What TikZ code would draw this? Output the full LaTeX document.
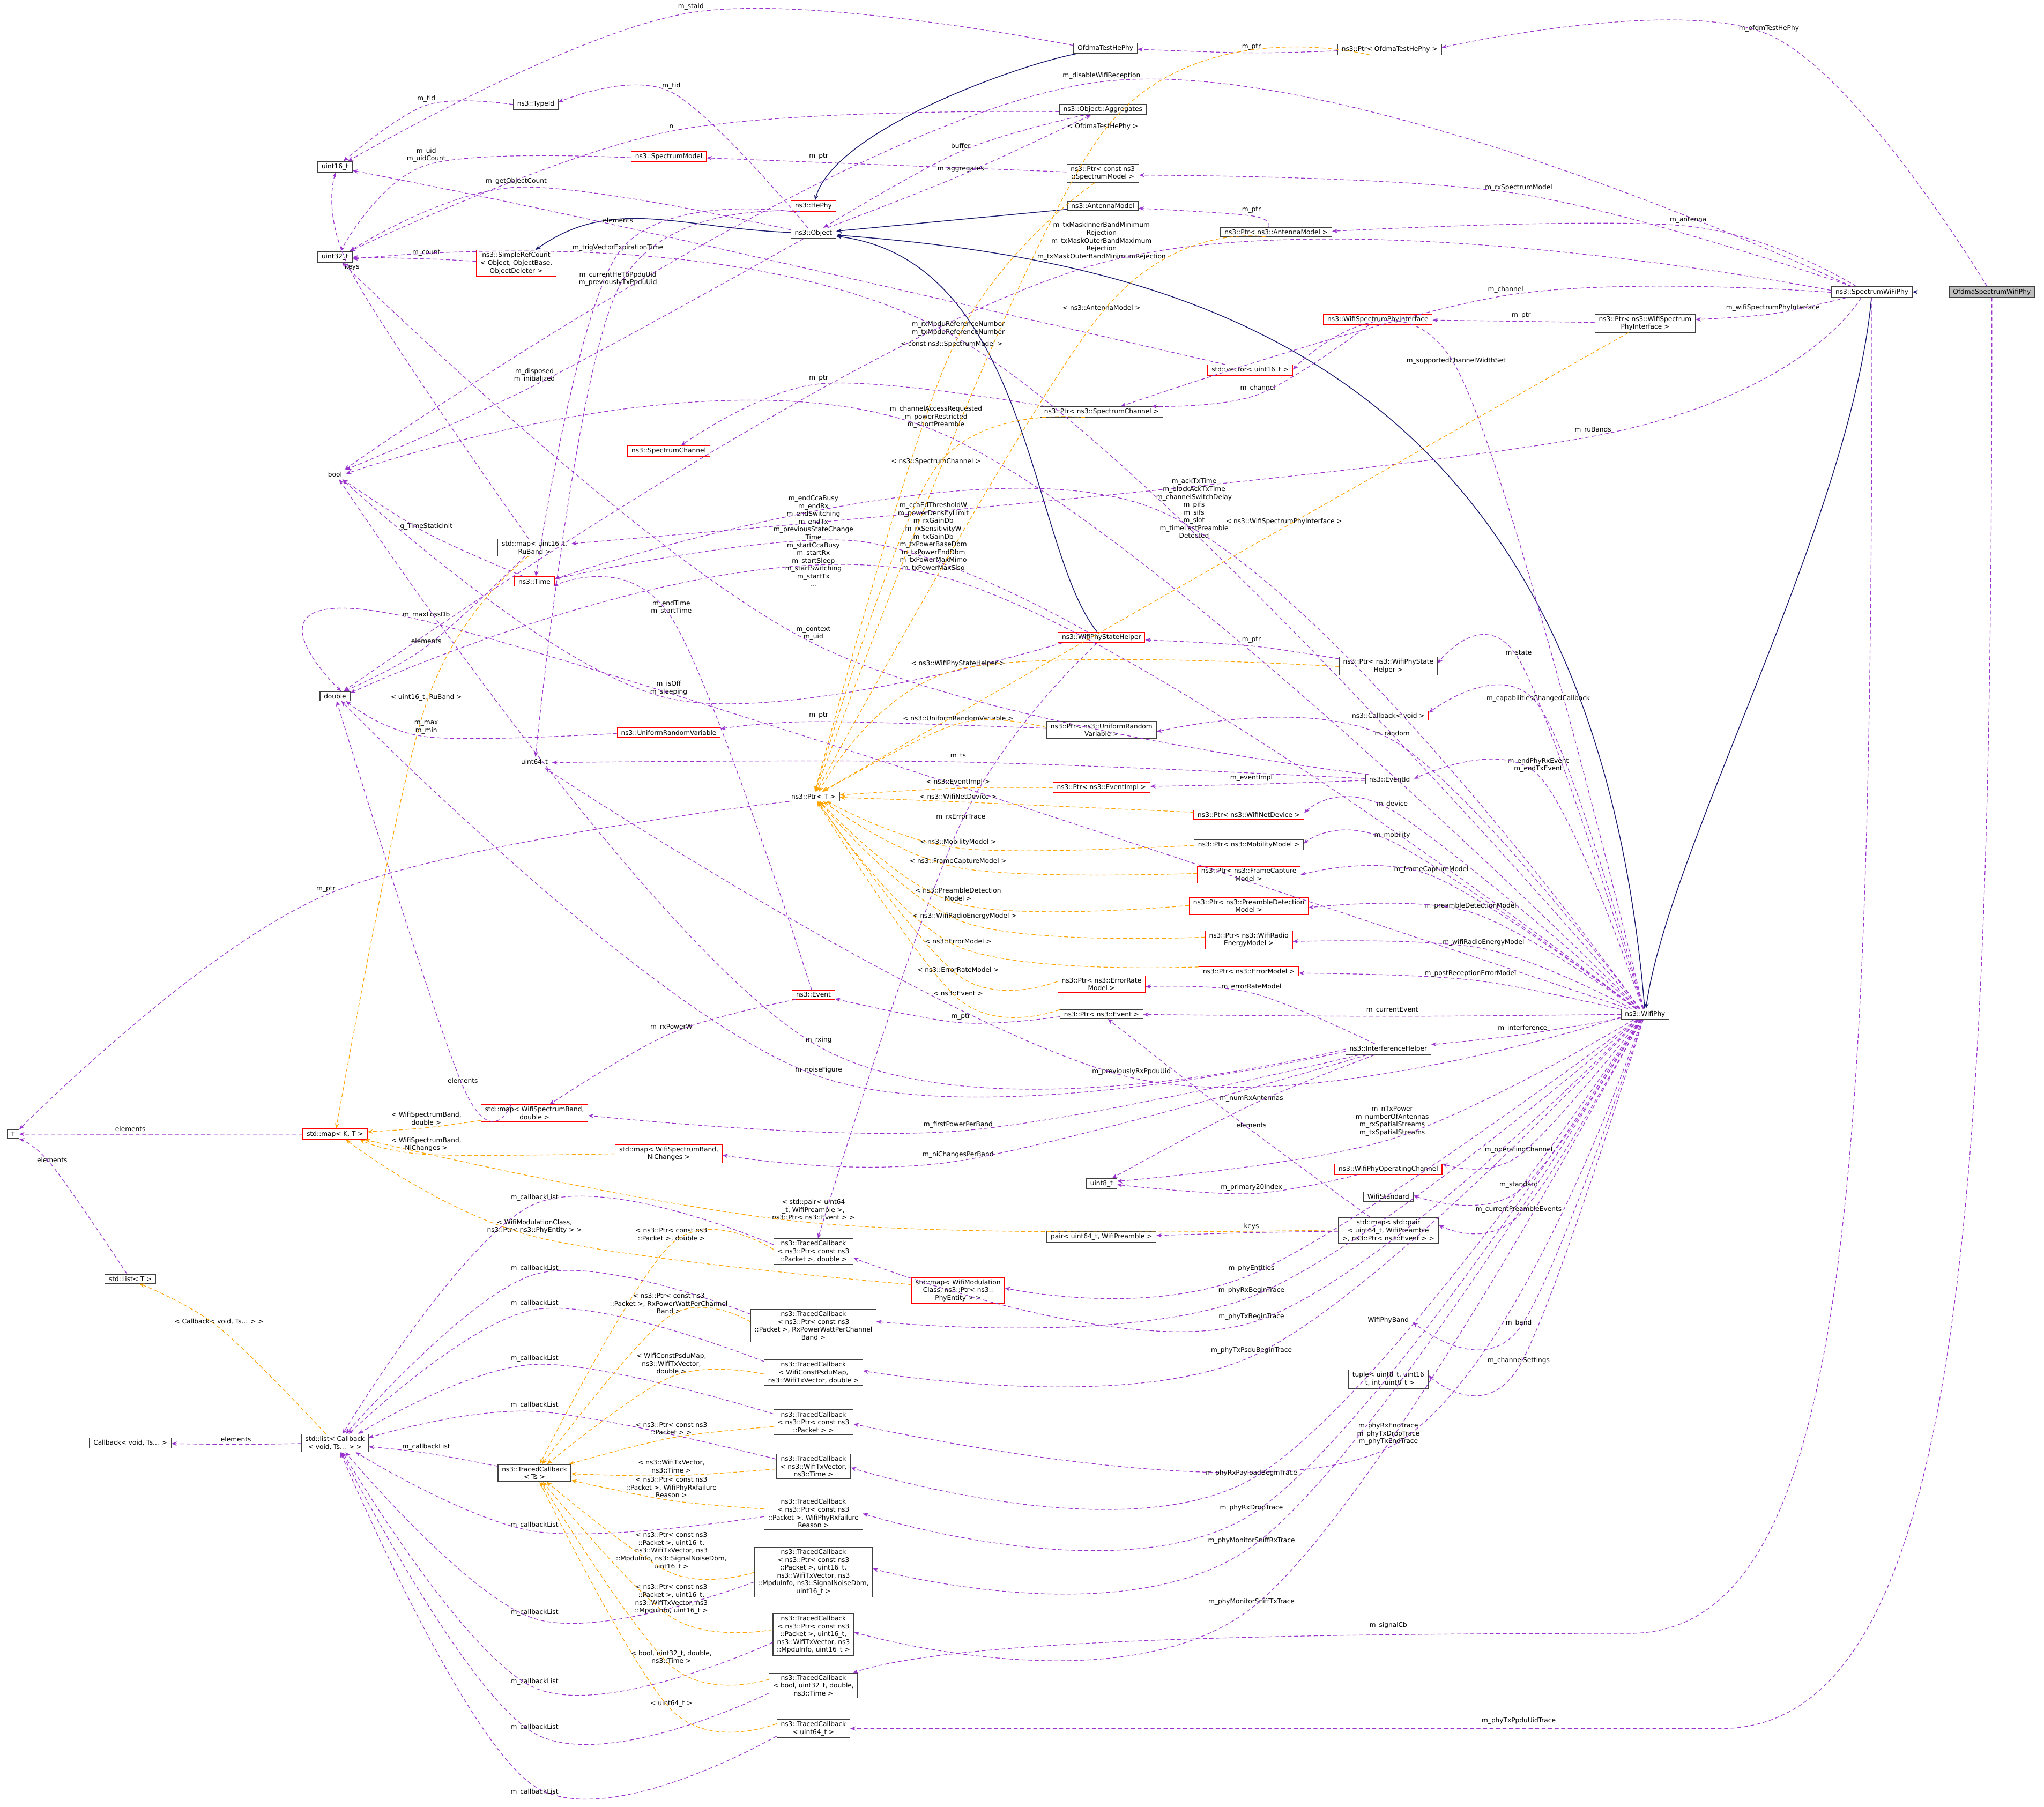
\documentclass[tikz,border=0pt]{standalone}
\usepackage{fontspec}
\setmainfont{DejaVu Sans}
\usetikzlibrary{arrows.meta,calc}
\definecolor{memc}{HTML}{9A32CD}
\definecolor{tplc}{HTML}{FFA500}
\definecolor{inhc}{HTML}{191970}
\tikzset{
 box/.style={draw=black!75,fill=white,line width=0.5pt,font=\fontsize{5}{6}\selectfont,inner xsep=3pt,inner ysep=1.6pt,align=center},
 rbox/.style={box,draw=red},
 gbox/.style={box,fill=black!25},
 lbl/.style={font=\fontsize{5}{6}\selectfont,align=center,inner sep=0pt},
 memb/.style={draw=memc,dashed,dash pattern=on 3pt off 2pt,line width=0.5pt,-{Stealth[length=4pt,width=3.2pt]}},
 tmpl/.style={draw=tplc,dashed,dash pattern=on 3pt off 2pt,line width=0.5pt,-{Stealth[length=4pt,width=3.2pt]}},
 inh/.style={draw=inhc,line width=0.6pt,-{Stealth[length=4pt,width=3.2pt]}}
}
\newcommand\edgecurve[6]{\node[lbl] (L) at (#6) {#5};
 \coordinate (P) at ($(L.#2)!-2pt!(L.center)$);
 \path (P) -- (#3) coordinate[pos=1] (Ae);
 \path (P) -- (#4) coordinate[pos=1] (Be);
 \draw[#1] plot[smooth,tension=0.6] coordinates {(Ae) (P) (Be)};}
\newcommand\mem[5][south]{\edgecurve{memb}{#1}{#2}{#3}{#4}{#5}}
\newcommand\tpl[5][south]{\edgecurve{tmpl}{#1}{#2}{#3}{#4}{#5}}
\newcommand\inhe[2]{\draw[inh] (#1) -- (#2);}
\catcode`\_=12
\begin{document}
\begin{tikzpicture}[x=1pt,y=-1pt]
\useasboundingbox (0,0) rectangle (1568,1386);
\fill[white] (0,0) rectangle (1568,1386);
% nodes
\node[gbox] (osp) at (1528,224) {OfdmaSpectrumWifiPhy};
\node[box] (swp) at (1436,224) {ns3::SpectrumWiFiPhy};
\node[box] (oth) at (848,37) {OfdmaTestHePhy};
\node[box] (potp) at (1066,38) {ns3::Ptr< OfdmaTestHePhy >};
\node[box] (tid) at (411,80) {ns3::TypeId};
\node[box] (agg) at (846,84) {ns3::Object::Aggregates};
\node[box] (u16) at (257,128) {uint16_t};
\node[rbox] (smod) at (513,120) {ns3::SpectrumModel};
\node[box] (pcsm) at (846,133) {ns3::Ptr< const ns3\\::SpectrumModel >};
\node[rbox] (hephy) at (624,158) {ns3::HePhy};
\node[box] (obj) at (624,179) {ns3::Object};
\node[box] (ant) at (846,158) {ns3::AntennaModel};
\node[box] (pant) at (979,178) {ns3::Ptr< ns3::AntennaModel >};
\node[box] (u32) at (257,197) {uint32_t};
\node[rbox] (src) at (396,202) {ns3::SimpleRefCount\\< Object, ObjectBase,\\ ObjectDeleter >};
\node[rbox] (wspi) at (1057,245) {ns3::WifiSpectrumPhyInterface};
\node[box] (pwspi) at (1262,248) {ns3::Ptr< ns3::WifiSpectrum\\PhyInterface >};
\node[rbox] (vec) at (959,284) {std::vector< uint16_t >};
\node[box] (psc) at (845,316) {ns3::Ptr< ns3::SpectrumChannel >};
\node[rbox] (sch) at (513,346) {ns3::SpectrumChannel};
\node[box] (bool) at (257,364) {bool};
\node[box] (mru) at (410,420) {std::map< uint16_t,\\ RuBand >};
\node[rbox] (time) at (410,446) {ns3::Time};
\node[rbox] (wpsh) at (845,489) {ns3::WifiPhyStateHelper};
\node[box] (pwpsh) at (1065,511) {ns3::Ptr< ns3::WifiPhyState\\Helper >};
\node[box] (dbl) at (257,534) {double};
\node[rbox] (cbv) at (1065,549) {ns3::Callback< void >};
\node[rbox] (urv) at (513,562) {ns3::UniformRandomVariable};
\node[box] (purv) at (845,560) {ns3::Ptr< ns3::UniformRandom\\Variable >};
\node[box] (u64) at (410,585) {uint64_t};
\node[box] (eid) at (1066,598) {ns3::EventId};
\node[rbox] (pei) at (845,604) {ns3::Ptr< ns3::EventImpl >};
\node[box] (ptrT) at (624,611) {ns3::Ptr< T >};
\node[rbox] (pwnd) at (958,625) {ns3::Ptr< ns3::WifiNetDevice >};
\node[box] (pmm) at (958,648) {ns3::Ptr< ns3::MobilityModel >};
\node[rbox] (pfc) at (958,671) {ns3::Ptr< ns3::FrameCapture\\ Model >};
\node[rbox] (ppd) at (958,695) {ns3::Ptr< ns3::PreambleDetection\\ Model >};
\node[rbox] (pwre) at (958,721) {ns3::Ptr< ns3::WifiRadio\\EnergyModel >};
\node[rbox] (pem) at (958,745) {ns3::Ptr< ns3::ErrorModel >};
\node[rbox] (perm) at (845,755) {ns3::Ptr< ns3::ErrorRate\\ Model >};
\node[rbox] (ev) at (624,763) {ns3::Event};
\node[box] (pev) at (845,778) {ns3::Ptr< ns3::Event >};
\node[box] (wphy) at (1262,778) {ns3::WifiPhy};
\node[box] (ih) at (1065,805) {ns3::InterferenceHelper};
\node[rbox] (mwd) at (410,854) {std::map< WifiSpectrumBand,\\ double >};
\node[box] (T) at (10,870) {T};
\node[rbox] (mkt) at (257,870) {std::map< K, T >};
\node[rbox] (mwn) at (513,885) {std::map< WifiSpectrumBand,\\ NiChanges >};
\node[box] (u8) at (845,908) {uint8_t};
\node[rbox] (woc) at (1065,897) {ns3::WifiPhyOperatingChannel};
\node[box] (wstd) at (1065,918) {WifiStandard};
\node[box] (mpe) at (1065,944) {std::map< std::pair\\< uint64_t, WifiPreamble\\ >, ns3::Ptr< ns3::Event > >};
\node[box] (pair) at (845,949) {pair< uint64_t, WifiPreamble >};
\node[box] (tcpd) at (624,960) {ns3::TracedCallback\\< ns3::Ptr< const ns3\\::Packet >, double >};
\node[box] (lT) at (100,981) {std::list< T >};
\node[rbox] (mwmc) at (735,990) {std::map< WifiModulation\\Class, ns3::Ptr< ns3::\\PhyEntity > >};
\node[box] (tcrx) at (624,1017) {ns3::TracedCallback\\< ns3::Ptr< const ns3\\::Packet >, RxPowerWattPerChannel\\Band >};
\node[box] (wband) at (1065,1013) {WifiPhyBand};
\node[box] (tcpsdu) at (624,1053) {ns3::TracedCallback\\< WifiConstPsduMap,\\ ns3::WifiTxVector, double >};
\node[box] (tup) at (1065,1058) {tuple< uint8_t, uint16\\_t, int, uint8_t >};
\node[box] (tcp) at (624,1091) {ns3::TracedCallback\\< ns3::Ptr< const ns3\\::Packet > >};
\node[box] (cbts) at (100,1107) {Callback< void, Ts... >};
\node[box] (lcb) at (257,1107) {std::list< Callback\\< void, Ts... > >};
\node[box] (tcts) at (410,1130) {ns3::TracedCallback\\< Ts >};
\node[box] (tctv) at (624,1125) {ns3::TracedCallback\\< ns3::WifiTxVector,\\ ns3::Time >};
\node[box] (tcfail) at (624,1161) {ns3::TracedCallback\\< ns3::Ptr< const ns3\\::Packet >, WifiPhyRxfailure\\ Reason >};
\node[box] (tcsnd) at (624,1206) {ns3::TracedCallback\\< ns3::Ptr< const ns3\\::Packet >, uint16_t,\\ ns3::WifiTxVector, ns3\\::MpduInfo, ns3::SignalNoiseDbm,\\ uint16_t >};
\node[box] (tcmpdu) at (624,1254) {ns3::TracedCallback\\< ns3::Ptr< const ns3\\::Packet >, uint16_t,\\ ns3::WifiTxVector, ns3\\::MpduInfo, uint16_t >};
\node[box] (tcbool) at (624,1293) {ns3::TracedCallback\\< bool, uint32_t, double,\\ ns3::Time >};
\node[box] (tcu64) at (624,1326) {ns3::TracedCallback\\< uint64_t >};
% inheritance
\inhe{osp}{swp}
\draw[inh] (swp) .. controls (1420,400) and (1280,650) .. (wphy);
\draw[inh] (wphy) .. controls (1220,270) and (900,200) .. (obj);
\draw[inh] (oth) .. controls (780,50) and (640,100) .. (hephy);
\draw[inh] (obj) .. controls (520,175) and (470,150) .. (src);
\inhe{ant}{obj}
\draw[inh] (wpsh) .. controls (790,420) and (790,200) .. (obj);
% long edges on the right
\node[lbl] (lptu) at (1165,1320) {m_phyTxPpduUidTrace};
\draw[memb] (osp) .. controls (1528,900) and (1510,1326) .. (1320,1326) -- (tcu64);
\node[lbl] (lscb) at (1065,1247) {m_signalCb};
\draw[memb] (swp) .. controls (1436,900) and (1420,1253) .. (1250,1253) .. controls (900,1253) and (720,1262) .. (tcbool);
% members
\mem{osp}{potp}{m_ofdmTestHePhy}{1357,22}
\mem{swp}{bool}{m_disableWifiReception}{845,58}
\mem{swp}{pcsm}{m_rxSpectrumModel}{1165,144}
\mem{swp}{pant}{m_antenna}{1295,169}
\mem{swp}{psc}{m_channel}{1155,222}
\mem{swp}{pwspi}{m_wifiSpectrumPhyInterface}{1360,236}
\mem{swp}{mru}{m_ruBands}{1222,330}
\mem{swp}{dbl}{m_txMaskInnerBandMinimum\\Rejection\\m_txMaskOuterBandMaximum\\Rejection\\m_txMaskOuterBandMinimumRejection}{845,185}
\mem{potp}{oth}{m_ptr}{960,36}
\mem{pcsm}{smod}{m_ptr}{628,120}
\mem{pant}{ant}{m_ptr}{960,161}
\mem{pwspi}{wspi}{m_ptr}{1167,242}
\mem{psc}{sch}{m_ptr}{628,290}
\mem{pwpsh}{wpsh}{m_ptr}{960,491}
\mem{purv}{urv}{m_ptr}{628,549}
\mem{pev}{ev}{m_ptr}{737,780}
\mem{ptrT}{T}{m_ptr}{250,682}
\mem{oth}{u16}{m_staId}{530,5}
\mem{tid}{u16}{m_tid}{327,76}
\mem{obj}{tid}{m_tid}{515,66}
\mem{agg}{u32}{n}{515,97}
\mem{agg}{obj}{buffer}{737,112}
\mem{obj}{agg}{m_aggregates}{737,130}
\mem{smod}{u32}{m_uid\\m_uidCount}{327,119}
\mem{obj}{u32}{m_getObjectCount}{396,139}
\mem{vec}{u16}{elements}{474,169}
\mem{src}{u32}{m_count}{327,194}
\mem{mru}{u16}{keys}{270,205}
\mem{hephy}{time}{m_trigVectorExpirationTime}{474,190}
\mem{hephy}{u64}{m_currentHeTbPpduUid\\m_previouslyTxPpduUid}{474,214}
\mem{obj}{bool}{m_disposed\\m_initialized}{410,288}
\mem{wspi}{psc}{m_channel}{965,298}
\mem{time}{bool}{g_TimeStaticInit}{327,404}
\mem[east]{wpsh}{time}{m_endCcaBusy\\m_endRx\\m_endSwitching\\m_endTx\\m_previousStateChange\\Time\\m_startCcaBusy\\m_startRx\\m_startSleep\\m_startSwitching\\m_startTx\\...}{624,415}
\mem{wpsh}{bool}{m_isOff\\m_sleeping}{513,528}
\mem{ev}{time}{m_endTime\\m_startTime}{515,466}
\mem{eid}{u32}{m_context\\m_uid}{624,486}
\mem{wphy}{dbl}{m_maxLossDb}{327,472}
\mem{mru}{dbl}{elements}{327,492}
\mem{urv}{dbl}{m_max\\m_min}{327,558}
\mem{eid}{u64}{m_ts}{735,580}
\mem{eid}{pei}{m_eventImpl}{960,597}
\mem{wpsh}{tcpd}{m_rxErrorTrace}{737,627}
\mem{ih}{perm}{m_errorRateModel}{960,757}
\mem{ev}{mwd}{m_rxPowerW}{515,788}
\mem{ih}{bool}{m_rxing}{628,798}
\mem{ih}{dbl}{m_noiseFigure}{628,821}
\mem{mwd}{dbl}{elements}{355,829}
\mem{mkt}{T}{elements}{100,866}
\mem{lT}{T}{elements}{40,890}
\mem{ih}{mwd}{m_firstPowerPerBand}{735,863}
\mem{ih}{mwn}{m_niChangesPerBand}{735,886}
\mem{ih}{u8}{m_numRxAntennas}{960,843}
\mem{mpe}{pev}{elements}{960,863}
\mem{mpe}{pair}{keys}{960,941}
\mem{woc}{u8}{m_primary20Index}{960,911}
\mem{lcb}{cbts}{elements}{181,1104}
\mem{tcts}{lcb}{m_callbackList}{327,1110}
\mem{tcpd}{lcb}{m_callbackList}{410,919}
\mem{tcrx}{lcb}{m_callbackList}{410,973}
\mem{tcpsdu}{lcb}{m_callbackList}{410,1000}
\mem{tcp}{lcb}{m_callbackList}{410,1042}
\mem{tctv}{lcb}{m_callbackList}{410,1078}
\mem{tcfail}{lcb}{m_callbackList}{410,1170}
\mem{tcsnd}{lcb}{m_callbackList}{410,1237}
\mem{tcmpdu}{lcb}{m_callbackList}{410,1290}
\mem{tcbool}{lcb}{m_callbackList}{410,1325}
\mem[north]{tcu64}{lcb}{m_callbackList}{410,1375}
% WifiPhy members
\mem{wphy}{u32}{m_rxMpduReferenceNumber\\m_txMpduReferenceNumber}{735,252}
\mem{wphy}{vec}{m_supportedChannelWidthSet}{1117,277}
\mem{wphy}{bool}{m_channelAccessRequested\\m_powerRestricted\\m_shortPreamble}{718,320}
\mem[west]{wphy}{time}{m_ackTxTime\\m_blockAckTxTime\\m_channelSwitchDelay\\m_pifs\\m_sifs\\m_slot\\m_timeLastPreamble\\Detected}{916,390}
\mem[south]{wphy}{dbl}{m_ccaEdThresholdW\\m_powerDensityLimit\\m_rxGainDb\\m_rxSensitivityW\\m_txGainDb\\m_txPowerBaseDbm\\m_txPowerEndDbm\\m_txPowerMaxMimo\\m_txPowerMaxSiso}{716,412}
\mem{wphy}{pwpsh}{m_state}{1165,501}
\mem{wphy}{cbv}{m_capabilitiesChangedCallback}{1180,536}
\mem{wphy}{purv}{m_random}{1068,563}
\mem{wphy}{eid}{m_endPhyRxEvent\\m_endTxEvent}{1180,587}
\mem{wphy}{pwnd}{m_device}{1068,617}
\mem{wphy}{pmm}{m_mobility}{1068,641}
\mem{wphy}{pfc}{m_frameCaptureModel}{1098,667}
\mem{wphy}{ppd}{m_preambleDetectionModel}{1128,695}
\mem{wphy}{pwre}{m_wifiRadioEnergyModel}{1138,723}
\mem{wphy}{pem}{m_postReceptionErrorModel}{1128,747}
\mem{wphy}{pev}{m_currentEvent}{1068,775}
\mem{wphy}{ih}{m_interference}{1168,789}
\mem{wphy}{u64}{m_previouslyRxPpduUid}{868,822}
\mem{wphy}{u8}{m_nTxPower\\m_numberOfAntennas\\m_rxSpatialStreams\\m_txSpatialStreams}{1068,860}
\mem{wphy}{woc}{m_operatingChannel}{1165,882}
\mem{wphy}{wstd}{m_standard}{1165,909}
\mem{wphy}{mpe}{m_currentPreambleEvents}{1165,928}
\mem{wphy}{mwmc}{m_phyEntities}{960,973}
\mem{wphy}{tcrx}{m_phyRxBeginTrace}{960,990}
\mem{wphy}{tcpd}{m_phyTxBeginTrace}{960,1010}
\mem{wphy}{wband}{m_band}{1165,1015}
\mem{wphy}{tcpsdu}{m_phyTxPsduBeginTrace}{960,1036}
\mem{wphy}{tup}{m_channelSettings}{1165,1044}
\mem{wphy}{tcp}{m_phyRxEndTrace\\m_phyTxDropTrace\\m_phyTxEndTrace}{1065,1100}
\mem{wphy}{tctv}{m_phyRxPayloadBeginTrace}{960,1130}
\mem{wphy}{tcfail}{m_phyRxDropTrace}{960,1157}
\mem{wphy}{tcsnd}{m_phyMonitorSniffRxTrace}{960,1182}
\mem{wphy}{tcmpdu}{m_phyMonitorSniffTxTrace}{960,1229}
% templates
\tpl{potp}{ptrT}{< OfdmaTestHePhy >}{846,97}
\tpl{pcsm}{ptrT}{< const ns3::SpectrumModel >}{730,264}
\tpl{pant}{ptrT}{< ns3::AntennaModel >}{845,236}
\tpl{psc}{ptrT}{< ns3::SpectrumChannel >}{718,354}
\tpl{pwspi}{ptrT}{< ns3::WifiSpectrumPhyInterface >}{985,400}
\tpl{pwpsh}{ptrT}{< ns3::WifiPhyStateHelper >}{735,509}
\tpl{purv}{ptrT}{< ns3::UniformRandomVariable >}{735,551}
\tpl{pei}{ptrT}{< ns3::EventImpl >}{735,600}
\tpl{pwnd}{ptrT}{< ns3::WifiNetDevice >}{735,611}
\tpl{pmm}{ptrT}{< ns3::MobilityModel >}{735,646}
\tpl{pfc}{ptrT}{< ns3::FrameCaptureModel >}{735,661}
\tpl{ppd}{ptrT}{< ns3::PreambleDetection\\Model >}{735,686}
\tpl{pwre}{ptrT}{< ns3::WifiRadioEnergyModel >}{740,703}
\tpl{pem}{ptrT}{< ns3::ErrorModel >}{735,722}
\tpl{perm}{ptrT}{< ns3::ErrorRateModel >}{735,744}
\tpl{pev}{ptrT}{< ns3::Event >}{735,762}
\tpl{mru}{mkt}{< uint16_t, RuBand >}{327,535}
\tpl{mwd}{mkt}{< WifiSpectrumBand,\\ double >}{327,858}
\tpl{mwn}{mkt}{< WifiSpectrumBand,\\ NiChanges >}{327,878}
\tpl{mpe}{mkt}{< std::pair< uint64\\_t, WifiPreamble >,\\ ns3::Ptr< ns3::Event > >}{624,928}
\tpl{mwmc}{mkt}{< WifiModulationClass,\\ ns3::Ptr< ns3::PhyEntity > >}{410,941}
\tpl{lcb}{lT}{< Callback< void, Ts... > >}{168,1014}
\tpl{tcpd}{tcts}{< ns3::Ptr< const ns3\\::Packet >, double >}{515,947}
\tpl{tcrx}{tcts}{< ns3::Ptr< const ns3\\::Packet >, RxPowerWattPerChannel\\Band >}{513,1000}
\tpl{tcpsdu}{tcts}{< WifiConstPsduMap,\\ ns3::WifiTxVector,\\ double >}{515,1046}
\tpl{tcp}{tcts}{< ns3::Ptr< const ns3\\::Packet > >}{515,1096}
\tpl{tctv}{tcts}{< ns3::WifiTxVector,\\ ns3::Time >}{515,1125}
\tpl{tcfail}{tcts}{< ns3::Ptr< const ns3\\::Packet >, WifiPhyRxfailure\\Reason >}{515,1141}
\tpl{tcsnd}{tcts}{< ns3::Ptr< const ns3\\::Packet >, uint16_t,\\ ns3::WifiTxVector, ns3\\::MpduInfo, ns3::SignalNoiseDbm,\\ uint16_t >}{515,1190}
\tpl{tcmpdu}{tcts}{< ns3::Ptr< const ns3\\::Packet >, uint16_t,\\ ns3::WifiTxVector, ns3\\::MpduInfo, uint16_t >}{515,1227}
\tpl{tcbool}{tcts}{< bool, uint32_t, double,\\ ns3::Time >}{515,1271}
\tpl{tcu64}{tcts}{< uint64_t >}{515,1307}
\end{tikzpicture}
\end{document}
